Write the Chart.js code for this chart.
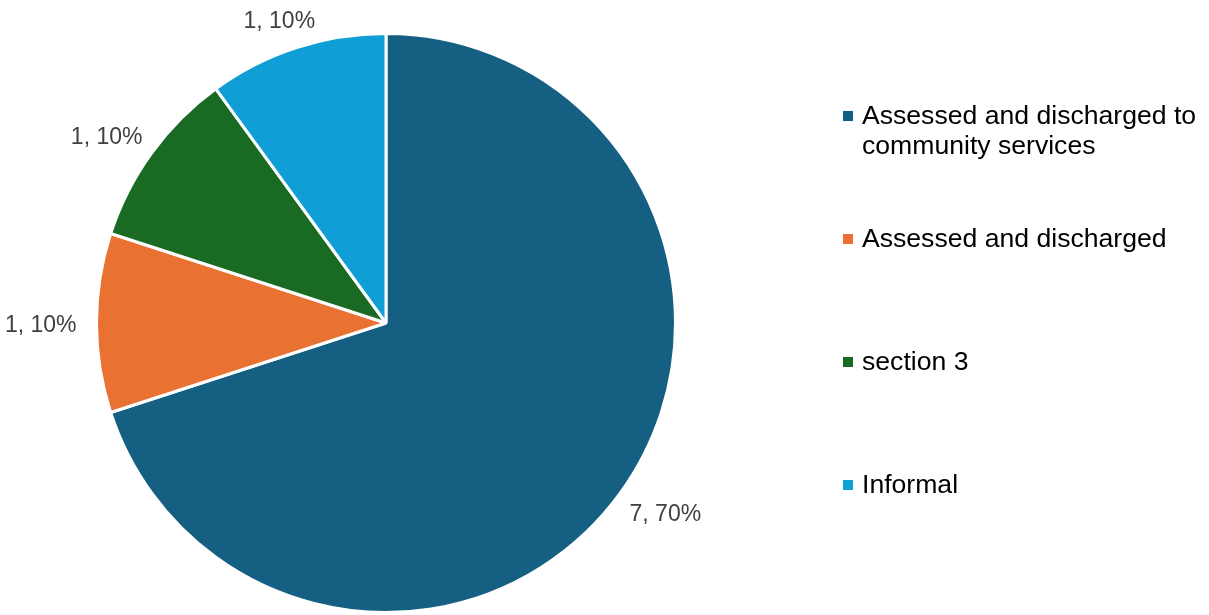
<!DOCTYPE html>
<html>
<head>
<meta charset="utf-8">
<script src="https://cdn.jsdelivr.net/npm/chart.js@4/dist/chart.umd.min.js"></script>
<style>
  html, body { margin: 0; padding: 0; background: #fff; }
  #wrap { width: 1209px; height: 615px; position: relative; }
</style>
</head>
<body>
<div id="wrap"><canvas id="pie"></canvas></div>
<script>
// categories and counts
const categories = ['Assessed and discharged to community services', 'Assessed and discharged', 'section 3', 'Informal'];
const counts = [7, 1, 1, 1];
const colours = ['#156082', '#E97132', '#196B24', '#0F9ED5'];

const FONT = '"Liberation Sans", Arial, sans-serif';

// value labels outside each slice: "count, pct%"
const sliceLabels = {
    id: 'sliceLabels',
    afterDatasetsDraw(chart) {
        const ctx = chart.ctx;
        const meta = chart.getDatasetMeta(0);
        const total = counts.reduce((a, b) => a + b, 0);
        ctx.save();
        ctx.font = '23px ' + FONT;
        ctx.fillStyle = '#404040';
        ctx.textAlign = 'center';
        ctx.textBaseline = 'middle';
        meta.data.forEach((arc, i) => {
            const mid = (arc.startAngle + arc.endAngle) / 2;
            const ux = Math.cos(mid), uy = Math.sin(mid);
            const text = counts[i] + ', ' + Math.round(counts[i] / total * 100) + '%';
            const w = ctx.measureText(text).width, h = 22;
            const r = arc.outerRadius + 20;
            ctx.fillText(text, arc.x + ux * r + ux * w / 2, arc.y + uy * r + uy * h / 2 + 3);
        });
        ctx.restore();
    }
};

// legend on the right, wrapped text with square markers
const sideLegend = {
    id: 'sideLegend',
    afterDraw(chart) {
        const ctx = chart.ctx;
        const x0 = 843, tx = 862, top = 117, pitch = 123, lineH = 30, maxW = 340;
        ctx.save();
        ctx.font = '26.6px ' + FONT;
        ctx.textBaseline = 'middle';
        ctx.textAlign = 'left';
        categories.forEach((cat, i) => {
            const y = top + i * pitch;
            ctx.fillStyle = colours[i];
            ctx.fillRect(x0, y - 6, 10, 10);
            // word wrap
            const lines = [];
            let line = '';
            cat.split(' ').forEach(word => {
                const test = line ? line + ' ' + word : word;
                if (ctx.measureText(test).width > maxW && line) {
                    lines.push(line);
                    line = word;
                } else {
                    line = test;
                }
            });
            lines.push(line);
            ctx.fillStyle = '#000';
            lines.forEach((l, j) => ctx.fillText(l, tx, y + j * lineH));
        });
        ctx.restore();
    }
};

new Chart(document.getElementById('pie'), {
    type: 'pie',
    data: {
        labels: categories,
        datasets: [{
            data: counts,
            backgroundColor: colours,
            borderColor: '#fff',
            borderWidth: 3
        }]
    },
    options: {
        responsive: true,
        maintainAspectRatio: false,
        animation: false,
        layout: { padding: { top: 32, bottom: 1, left: 95, right: 532 } },
        plugins: {
            legend: { display: false },
            tooltip: { enabled: false }
        }
    },
    plugins: [sliceLabels, sideLegend]
});
</script>
</body>
</html>
